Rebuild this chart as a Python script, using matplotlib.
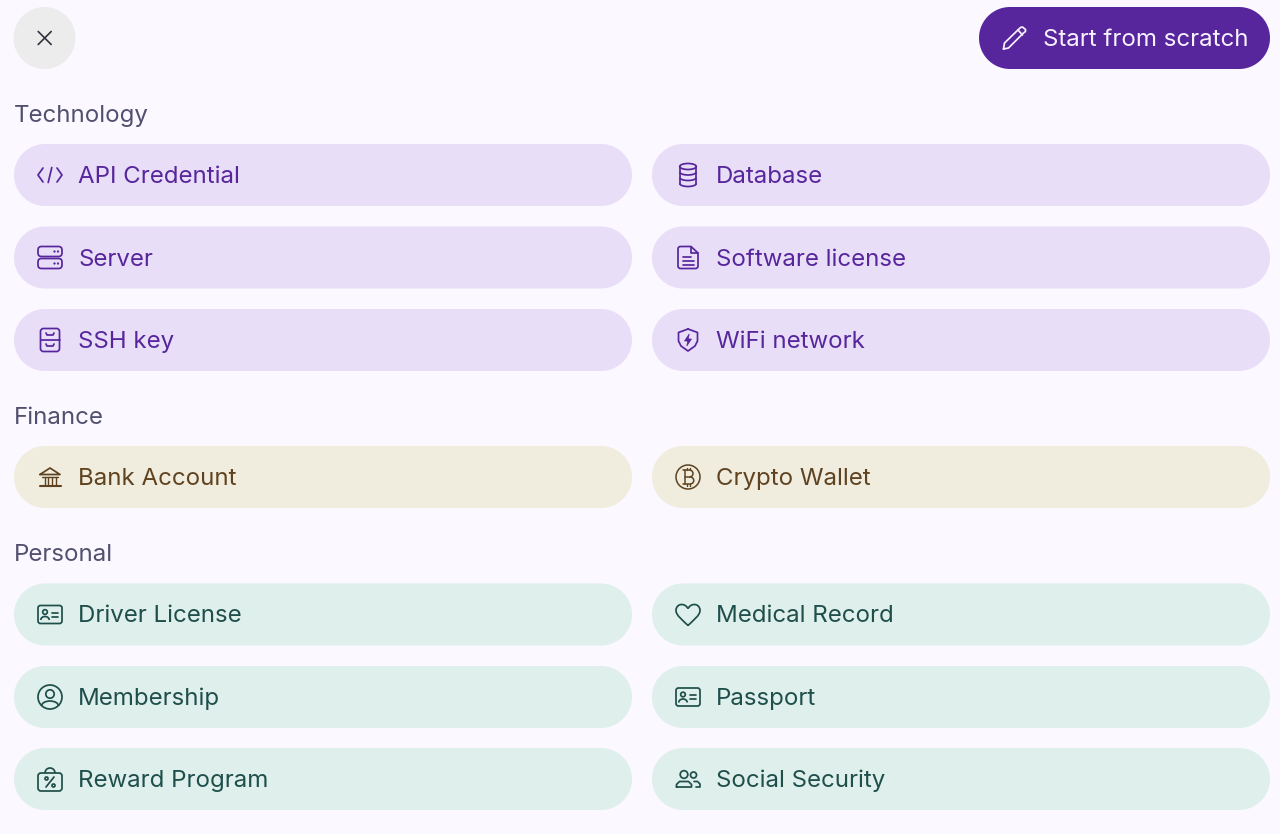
import matplotlib
matplotlib.use('Agg')
import matplotlib.pyplot as plt
import numpy as np
from matplotlib.patches import FancyBboxPatch, Circle, Ellipse, Arc, Polygon, PathPatch
from matplotlib.path import Path

plt.rcParams['font.family'] = ['Inter', 'DejaVu Sans']

W, H = 1280, 834
BG = '#fbf8ff'

# section names and the items in each one, read left to right
sections = ['Technology', 'Finance', 'Personal']
section_y = [113, 415, 552.5]
tech_items = ['API Credential', 'Database', 'Server', 'Software license', 'SSH key', 'WiFi network']
finance_items = ['Bank Account', 'Crypto Wallet']
personal_items = ['Driver License', 'Medical Record', 'Membership', 'Passport', 'Reward Program', 'Social Security']
tech_icons = ['code', 'db', 'server', 'doc', 'drawer', 'shield']
finance_icons = ['bank', 'btc']
personal_icons = ['card', 'heart', 'user', 'card', 'bag', 'people']
tech_rows = [144, 226.5, 309]
finance_rows = [446]
personal_rows = [583.5, 666, 748]

# pill colours: fill, foreground
tech_col = ('#e9def8', '#57269c')
finance_col = ('#f0ecde', '#5f4320')
personal_col = ('#dfefec', '#1f4f4b')

COL_X = [14, 652]
PILL_W = 618
PILL_H = 62
LW = 1.25

fig = plt.figure(figsize=(W / 100, H / 100), dpi=100, facecolor=BG)
ax = fig.add_axes([0, 0, 1, 1])
ax.set_xlim(0, W)
ax.set_ylim(H, 0)
ax.axis('off')


def pill(x, y, w, h, color):
    # true half circle ends, the bbox patch rounds too squarely
    r = h / 2
    t = np.linspace(-np.pi / 2, np.pi / 2, 60)
    right = np.column_stack([x + w - r + r * np.cos(t), y + r + r * np.sin(t)])
    left = np.column_stack([x + r - r * np.cos(t), y + r - r * np.sin(t)])
    ax.add_patch(Polygon(np.vstack([right, left]), closed=True, fc=color, ec='none', zorder=1))


def line(cx, cy, xs, ys, c, lw=LW, closed=False):
    xs = list(xs)
    ys = list(ys)
    if closed:
        xs.append(xs[0])
        ys.append(ys[0])
    ax.plot([cx + v for v in xs], [cy + v for v in ys], color=c, lw=lw,
            solid_capstyle='round', solid_joinstyle='round', zorder=3)


def rrect(cx, cy, x0, y0, w, h, r, c, lw=LW):
    ax.add_patch(FancyBboxPatch((cx + x0 + r, cy + y0 + r), w - 2 * r, h - 2 * r,
                                boxstyle='round,pad=%g,rounding_size=%g' % (r, r),
                                fc='none', ec=c, lw=lw, zorder=3))


def circ(cx, cy, x0, y0, r, c, lw=LW, fill=False):
    ax.add_patch(Circle((cx + x0, cy + y0), r, fc=c if fill else 'none',
                        ec=c, lw=lw, zorder=3))


def arc(cx, cy, x0, y0, w, h, a1, a2, c, lw=LW):
    ax.add_patch(Arc((cx + x0, cy + y0), w, h, theta1=a1, theta2=a2, ec=c, lw=lw, zorder=3))


def draw_icon(kind, cx, cy, c):
    if kind == 'code':
        line(cx, cy, [-7, -12, -7], [-7, 0, 7], c)
        line(cx, cy, [7, 12, 7], [-7, 0, 7], c)
        line(cx, cy, [1.8, -1.8], [-7.5, 7.5], c)
    elif kind == 'db':
        ax.add_patch(Ellipse((cx, cy - 8.5), 16.5, 6, fc='none', ec=c, lw=LW, zorder=3))
        line(cx, cy, [-8.25, -8.25], [-8.5, 8.5], c)
        line(cx, cy, [8.25, 8.25], [-8.5, 8.5], c)
        arc(cx, cy, 0, -3, 16.5, 6, 0, 180, c)
        arc(cx, cy, 0, 2.5, 16.5, 6, 0, 180, c)
        arc(cx, cy, 0, 8.5, 16.5, 6, 0, 180, c)
    elif kind == 'server':
        rrect(cx, cy, -12, -11, 24, 10, 3.5, c)
        rrect(cx, cy, -12, 1, 24, 10, 3.5, c)
        for yy in (-6, 6):
            circ(cx, cy, 4.5, yy, 0.7, c, lw=0.6, fill=True)
            circ(cx, cy, 8, yy, 0.7, c, lw=0.6, fill=True)
    elif kind == 'doc':
        verts = [(-7.5, -11), (3, -11), (10, -4.5), (10, 8.5), (10, 11), (7.5, 11),
                 (-7.5, 11), (-10, 11), (-10, 8.5), (-10, -8.5), (-10, -11), (-7.5, -11)]
        codes = [Path.MOVETO, Path.LINETO, Path.LINETO, Path.LINETO, Path.CURVE3, Path.CURVE3,
                 Path.LINETO, Path.CURVE3, Path.CURVE3, Path.LINETO, Path.CURVE3, Path.CURVE3]
        ax.add_patch(PathPatch(Path([(cx + a, cy + b) for a, b in verts], codes),
                               fc='none', ec=c, lw=LW, zorder=3))
        line(cx, cy, [3, 3, 10], [-11, -4.5, -4.5], c)
        line(cx, cy, [-5.5, 3], [-1, -1], c)
        line(cx, cy, [-5.5, 5.5], [3, 3], c)
        line(cx, cy, [-5.5, 5.5], [7, 7], c)
    elif kind == 'drawer':
        rrect(cx, cy, -9.5, -11.5, 19, 23, 3, c)
        line(cx, cy, [-9.5, 9.5], [0, 0], c)
        line(cx, cy, [-4, -3, 3, 4], [-7, -5, -5, -7], c)
        line(cx, cy, [-4, -3, 3, 4], [4, 6, 6, 4], c)
    elif kind == 'shield':
        line(cx, cy, [0, 9.5, 9.5, 7, 0, -7, -9.5, -9.5],
             [-11, -7.5, 1, 6, 11, 6, 1, -7.5], c, closed=True)
        ax.add_patch(Polygon([(cx + 1.2, cy - 6), (cx - 3.5, cy + 1), (cx - 0.3, cy + 1),
                              (cx - 1.2, cy + 6), (cx + 3.5, cy - 1), (cx + 0.3, cy - 1)],
                             fc=c, ec=c, lw=0.5, zorder=3))
    elif kind == 'bank':
        line(cx, cy, [-10, 0, 10, -10], [-2.5, -9, -2.5, -2.5], c)
        line(cx, cy, [-8, 8], [-0.5, -0.5], c, lw=1)
        for xx in (-5.5, -1.8, 1.8, 5.5):
            line(cx, cy, [xx, xx], [-0.5, 8], c, lw=1)
        line(cx, cy, [-10.5, 10.5], [9, 9], c, lw=1.5)
    elif kind == 'btc':
        circ(cx, cy, 0, 0, 12, c, lw=1.1)
        line(cx, cy, [-5, 1.5], [-7, -7], c, lw=1.1)
        line(cx, cy, [-3.5, 2], [0, 0], c, lw=1.1)
        line(cx, cy, [-5, 2], [7, 7], c, lw=1.1)
        line(cx, cy, [-3.5, -3.5], [-7, 7], c, lw=1.1)
        arc(cx, cy, 1.5, -3.5, 7, 7, 270, 90, c, lw=1.1)
        arc(cx, cy, 2, 3.5, 7.5, 7, 270, 90, c, lw=1.1)
        for xx in (-1, 2):
            line(cx, cy, [xx, xx], [-9, -7], c, lw=1)
            line(cx, cy, [xx, xx], [7, 9], c, lw=1)
    elif kind == 'card':
        rrect(cx, cy, -12, -9, 24, 18, 2.5, c)
        circ(cx, cy, -5, -2.5, 2.3, c)
        arc(cx, cy, -5, 5.5, 8.5, 7, 180, 360, c)
        line(cx, cy, [2, 7.5], [-2, -2], c)
        line(cx, cy, [2, 7.5], [2, 2], c)
    elif kind == 'heart':
        verts = [(0, 11), (-5, 6), (-12, 1), (-12, -4), (-12, -8.5), (-8.5, -10), (-6.5, -10),
                 (-3.5, -10), (-1.5, -8.5), (0, -6), (1.5, -8.5), (3.5, -10), (6.5, -10),
                 (8.5, -10), (12, -8.5), (12, -4), (12, 1), (5, 6), (0, 11)]
        codes = [Path.MOVETO] + [Path.CURVE4] * 18
        ax.add_patch(PathPatch(Path([(cx + a, cy + b) for a, b in verts], codes),
                               fc='none', ec=c, lw=LW, zorder=3))
    elif kind == 'user':
        circ(cx, cy, 0, 0, 12, c)
        circ(cx, cy, 0, -3, 4.2, c)
        arc(cx, cy, 0, 9, 17, 10, 180, 360, c)
    elif kind == 'bag':
        rrect(cx, cy, -12, -6, 24, 18, 3, c)
        arc(cx, cy, 0, -6, 10, 10, 180, 360, c)
        line(cx, cy, [4, -4], [-2, 8], c)
        circ(cx, cy, -3.5, -0.5, 1.5, c)
        circ(cx, cy, 3.5, 6.5, 1.5, c)
    elif kind == 'people':
        circ(cx, cy, -4, -4.5, 3.8, c)
        circ(cx, cy, 5.5, -4, 3, c)
        line(cx, cy, [-11.5, -11.5, -8.5, 0.5, 3.5, 3.5, -11.5],
             [8, 5.5, 2.5, 2.5, 5.5, 8, 8], c)
        line(cx, cy, [6, 9.5, 12, 12, 8], [2.5, 2.5, 5, 8, 8], c)


for rows, items, icons, col in [(tech_rows, tech_items, tech_icons, tech_col),
                                (finance_rows, finance_items, finance_icons, finance_col),
                                (personal_rows, personal_items, personal_icons, personal_col)]:
    for i, (name, icon) in enumerate(zip(items, icons)):
        y = rows[i // 2]
        x = COL_X[i % 2]
        pill(x, y, PILL_W, PILL_H, col[0])
        draw_icon(icon, x + 36, y + PILL_H / 2, col[1])
        ax.text(x + 64, y + PILL_H / 2 - 0.5, name, fontsize=17.3, color=col[1],
                va='center_baseline', ha='left', zorder=4)

for name, y in zip(sections, section_y):
    ax.text(14, y, name, fontsize=17.3, color='#51506e', va='center_baseline', ha='left')

# close button
ax.add_patch(Circle((44.5, 38), 31, fc='#ececec', ec='none', zorder=1))
line(44.7, 38, [-6.5, 6.5], [-6.5, 6.5], '#33323f', lw=1.2)
line(44.7, 38, [-6.5, 6.5], [6.5, -6.5], '#33323f', lw=1.2)

# start from scratch button
pill(979, 7, 291, 62, '#57269c')
pc = '#f8f2ff'
line(1014.5, 38, [-11, -10, 6, 8, 11, 11, 9, -6, -11],
     [11, 5, -10.5, -11, -8.5, -6.5, -5, 10, 11], pc)
line(1014.5, 38, [3.5, 8], [-8, -3], pc)
ax.text(1043, 37.5, 'Start from scratch', fontsize=17.3, color=pc, va='center_baseline',
        ha='left', zorder=4)

fig.savefig('out.png', dpi=100, facecolor=BG)
